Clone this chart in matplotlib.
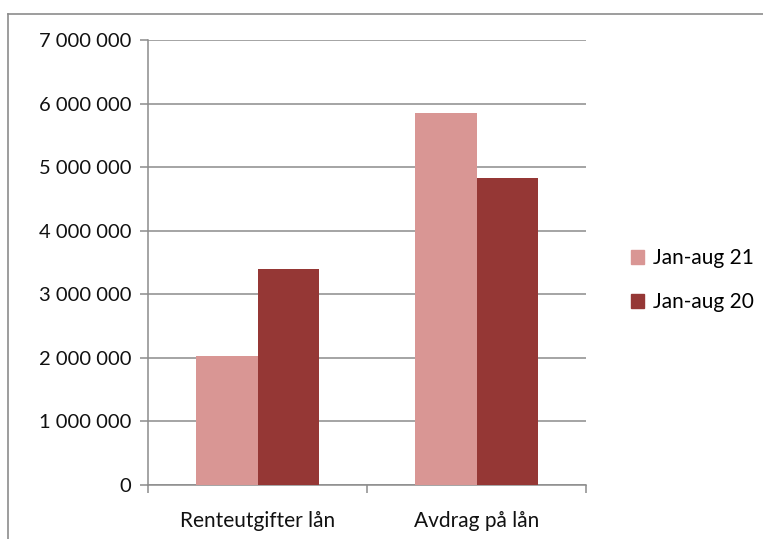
import numpy as np
import matplotlib.pyplot as plt
from matplotlib.patches import Patch
from matplotlib.lines import Line2D

categories = ["Renteutgifter lån", "Avdrag på lån"]
series_names = ["Jan-aug 21", "Jan-aug 20"]
jan_aug_21 = [2030000, 5850000]
jan_aug_20 = [3400000, 4830000]
colors = ["#D99694", "#953735"]

plt.rcParams['font.family'] = ['Lato', 'DejaVu Sans']

fig = plt.figure(figsize=(7.63, 5.39), dpi=100)
ax = fig.add_axes([148/763, 1-485/539, (586-148)/763, (485-40)/539])

x = np.arange(len(categories))
w = 0.28
ax.bar(x - w/2, jan_aug_21, w, color=colors[0], zorder=3)
ax.bar(x + w/2, jan_aug_20, w, color=colors[1], zorder=3)

ax.set_xlim(-0.5, len(categories) - 0.5)
ax.set_ylim(0, 7000000)
yt = np.arange(0, 7000001, 1000000)
ax.set_yticks(yt)
ax.set_yticklabels([f"{v:,}".replace(",", " ") for v in yt], fontsize=14.5, color="#111111")
ax.yaxis.grid(True, color="#8c8c8c", linewidth=1.1, zorder=0)

# category labels between boundary ticks
ax.set_xticks([-0.5, 0.5, 1.5])
ax.set_xticklabels([])
ax.set_xticks(x, minor=True)
ax.set_xticklabels(categories, minor=True, fontsize=15, color="#111111")
ax.tick_params(axis='x', which='minor', length=0, pad=19)
ax.tick_params(axis='x', which='major', length=6, color="#8c8c8c", width=1.1)
ax.tick_params(axis='y', length=6, color="#8c8c8c", width=1.1, pad=6)

for s in ["top", "right"]:
    ax.spines[s].set_visible(False)
for s in ["left", "bottom"]:
    ax.spines[s].set_color("#8c8c8c")
    ax.spines[s].set_linewidth(1.1)

handles = [Patch(facecolor=c, edgecolor=c) for c in colors]
fig.legend(handles, series_names, loc="center left", bbox_to_anchor=(612/763, 1-280/539),
           frameon=False, fontsize=15, handlelength=0.65, handleheight=0.65,
           handletextpad=0.4, labelspacing=1.15)

# outer chart frame (top and left)
fig.add_artist(Line2D([8/763, 1], [1-14/539, 1-14/539], color="#8c8c8c", linewidth=1.2))
fig.add_artist(Line2D([8/763, 8/763], [0, 1-14/539], color="#8c8c8c", linewidth=1.2))

fig.savefig("out.png", dpi=100)
